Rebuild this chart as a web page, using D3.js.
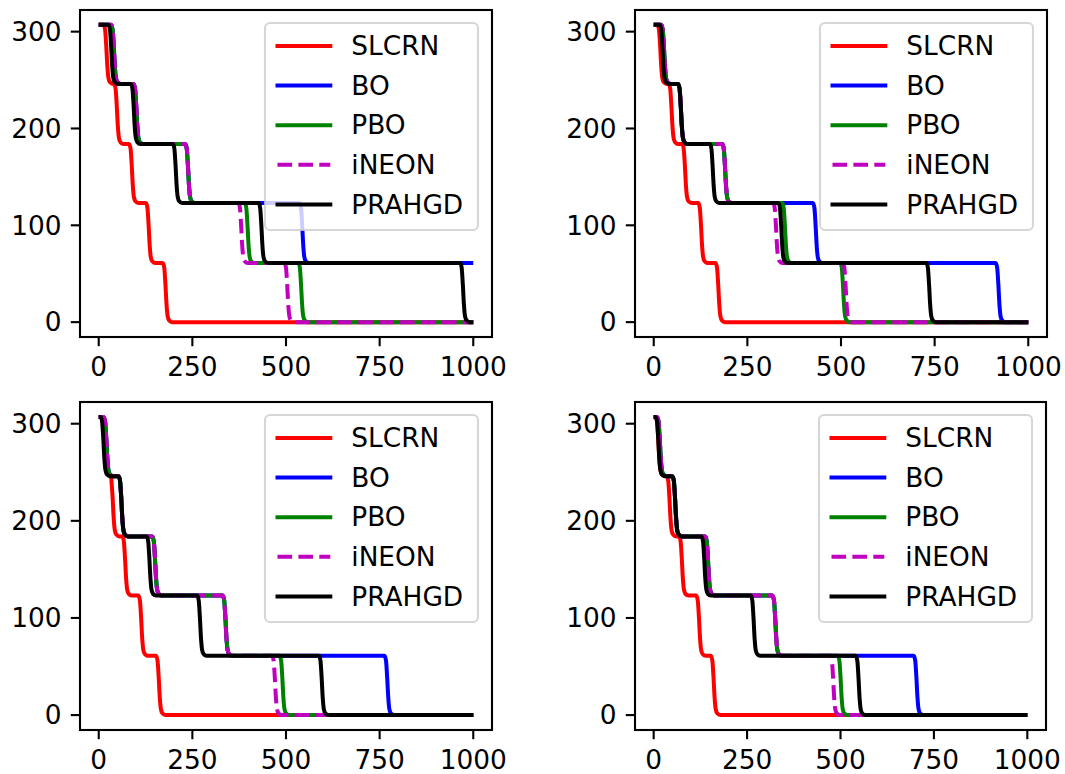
<!DOCTYPE html>
<html>
<head>
<meta charset="utf-8">
<script src="https://cdn.jsdelivr.net/npm/d3@7"></script>
<style>
  body { margin: 0; background: #fff; }
  text { font-family: "DejaVu Sans", sans-serif; }
</style>
</head>
<body>
<div id="chart"></div>
<script>
// step levels of the objective (same in all panels)
const levels = [307, 246, 184, 123, 61, 0];

// x position of each drop, one row per panel: top-left, top-right, bottom-left, bottom-right
const slcrnDrops  = [[20, 48, 88, 133, 178], [17, 47, 83, 126, 172], [15, 37, 70, 113, 160], [12, 42, 75, 121, 160]];
const boDrops     = [[40, 100, 238, 543],    [27, 72, 190, 432, 920], [20, 60, 150, 338, 770], [16, 57, 145, 325, 703]];
const pboDrops    = [[40, 100, 238, 397, 540], [27, 72, 190, 350, 505], [20, 60, 150, 338, 490], [16, 57, 145, 325, 500]];
const ineonDrops  = [[40, 100, 238, 380, 503], [27, 72, 190, 326, 512], [20, 60, 150, 338, 470], [16, 57, 145, 325, 480]];
const prahgdDrops = [[33, 93, 205, 434, 972], [23, 72, 157, 340, 735], [12, 60, 135, 270, 595], [12, 57, 135, 267, 548]];

const seriesNames = ["SLCRN", "BO", "PBO", "iNEON", "PRAHGD"];
const seriesColors = ["#ff0000", "#0000ff", "#008000", "#bf00bf", "#000000"];
const seriesDrops = [slcrnDrops, boDrops, pboDrops, ineonDrops, prahgdDrops];
const xTicks = [0, 250, 500, 750, 1000];
const yTicks = [0, 100, 200, 300];

const W = 1065, H = 774;
const fs = 26.4;          // 10pt at ~190 dpi
const lw = 4;             // 1.5pt lines
const tickLen = 9.2;

const panels = [
  {x0: 80,  x1: 492,  y0: 10,  y1: 337},
  {x0: 635, x1: 1047, y0: 10,  y1: 337},
  {x0: 80,  x1: 492,  y0: 402, y1: 730},
  {x0: 635, x1: 1046, y0: 402, y1: 730}
];

// shape of one smooth drop around its centre (fraction of the step)
const dropDx   = [-7, -3, 0, 3, 6, 10, 18];
const dropFrac = [0, 0.08, 0.35, 0.7, 0.9, 0.97, 1];

function buildPoints(drops) {
  let pts = [[0, levels[0]]];
  drops.forEach(function (c, k) {
    let L = levels[k], d = levels[k] - levels[k + 1];
    dropDx.forEach(function (dx, j) { pts.push([c + dx, L - d * dropFrac[j]]); });
  });
  pts.push([1000, levels[drops.length]]);
  // keep x strictly increasing
  let out = [];
  pts.forEach(function (p) {
    if (out.length == 0 || p[0] > out[out.length - 1][0]) out.push(p);
  });
  return out;
}

const svg = d3.select("#chart").append("svg")
  .attr("width", W).attr("height", H);

panels.forEach(function (p, pi) {
  const x = d3.scaleLinear().domain([-50, 1050]).range([p.x0, p.x1]);
  const y = d3.scaleLinear().domain([-0.05 * levels[0], 1.05 * levels[0]]).range([p.y1, p.y0]);
  const g = svg.append("g");

  const line = d3.line()
    .x(function (d) { return x(d[0]); })
    .y(function (d) { return y(d[1]); })
    .curve(d3.curveMonotoneX);

  seriesNames.forEach(function (name, si) {
    g.append("path")
      .datum(buildPoints(seriesDrops[si][pi]))
      .attr("d", line)
      .attr("fill", "none")
      .attr("stroke", seriesColors[si])
      .attr("stroke-width", lw)
      .attr("stroke-linejoin", "round")
      .attr("stroke-dasharray", name == "iNEON" ? "14.6,6.3" : null);
  });

  // spines
  g.append("rect")
    .attr("x", p.x0).attr("y", p.y0)
    .attr("width", p.x1 - p.x0).attr("height", p.y1 - p.y0)
    .attr("fill", "none").attr("stroke", "#000").attr("stroke-width", 2.1);

  // x ticks
  xTicks.forEach(function (t) {
    g.append("line")
      .attr("x1", x(t)).attr("x2", x(t))
      .attr("y1", p.y1).attr("y2", p.y1 + tickLen)
      .attr("stroke", "#000").attr("stroke-width", 2.1);
    g.append("text")
      .attr("x", x(t)).attr("y", p.y1 + 39)
      .attr("text-anchor", "middle")
      .style("font-size", fs + "px")
      .text(t);
  });

  // y ticks
  yTicks.forEach(function (t) {
    g.append("line")
      .attr("x1", p.x0 - tickLen).attr("x2", p.x0)
      .attr("y1", y(t)).attr("y2", y(t))
      .attr("stroke", "#000").attr("stroke-width", 2.1);
    g.append("text")
      .attr("x", p.x0 - 2 * tickLen).attr("y", y(t))
      .attr("dy", "0.35em")
      .attr("text-anchor", "end")
      .style("font-size", fs + "px")
      .text(t);
  });

  // legend, upper right
  const fw = 213, fh = 207;
  const fx = p.x1 - 14 - fw, fy = p.y0 + 13;
  g.append("rect")
    .attr("x", fx).attr("y", fy).attr("width", fw).attr("height", fh)
    .attr("rx", 5).attr("ry", 5)
    .attr("fill", "rgba(255,255,255,0.8)")
    .attr("stroke", "rgba(204,204,204,0.8)")
    .attr("stroke-width", 2.1);

  seriesNames.forEach(function (name, si) {
    const cy = fy + 10.5 + 12.5 + si * 39.6;
    const hx = fx + 12.5;
    g.append("line")
      .attr("x1", hx).attr("x2", hx + 52.8)
      .attr("y1", cy).attr("y2", cy)
      .attr("stroke", seriesColors[si])
      .attr("stroke-width", lw)
      .attr("stroke-linecap", name == "iNEON" ? "butt" : "square")
      .attr("stroke-dasharray", name == "iNEON" ? "14.6,6.3" : null);
    g.append("text")
      .attr("x", hx + 52.8 + 21).attr("y", cy)
      .attr("dy", "0.35em")
      .style("font-size", fs + "px")
      .text(name);
  });
});
</script>
</body>
</html>
